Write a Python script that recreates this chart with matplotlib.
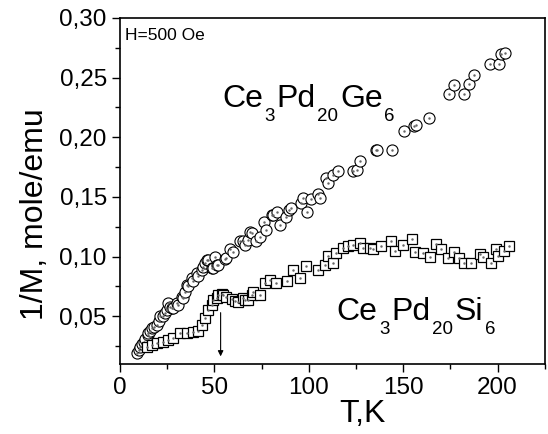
import matplotlib
matplotlib.use("Agg")
import matplotlib.pyplot as plt
from matplotlib.ticker import MultipleLocator, FuncFormatter
from matplotlib.transforms import offset_copy

plt.rcParams['font.family'] = ['Liberation Sans', 'DejaVu Sans']

# Ce3Pd20Ge6 : T (K), 1/M (mole/emu)
ge_T = [8.8, 9.8, 10.6, 11.5, 12.7, 13.5, 14.7, 15.0, 15.8, 16.8, 17.8, 19.4, 20.5, 21.2,
        22.9, 23.8, 24.7, 25.6, 26.5, 27.3, 28.2, 30.0, 30.8, 32.6, 33.5, 34.5, 35.3, 36.1,
        37.9, 38.8, 40.6, 41.4, 43.2, 44.0, 45.0, 45.9, 46.7, 48.5, 49.4, 50.3, 51.2, 52.0,
        55.6, 56.4, 58.2, 60.0, 63.5, 65.2, 66.1, 67.9, 68.8, 69.7, 72.3, 74.4, 76.2, 77.2,
        80.3, 80.8, 83.2, 85.0, 87.8, 89.6, 90.8, 96.1, 97.0, 98.8, 101.4, 104.9, 106.2,
        109.0, 110.2, 112.9, 115.5, 123.4, 125.8, 127.0, 135.4, 136.3, 144.3, 150.3, 155.7,
        157.0, 163.7, 174.2, 176.9, 182.2, 184.8, 187.3, 195.8, 201.0, 202.0, 203.7]
ge_M = [0.0197, 0.0215, 0.0247, 0.0265, 0.0289, 0.031, 0.034, 0.0359, 0.038, 0.040, 0.0415,
        0.0429, 0.046, 0.050, 0.050, 0.0527, 0.0555, 0.0616, 0.0582, 0.0569, 0.0569, 0.0611,
        0.0596, 0.0666, 0.0652, 0.0700, 0.0764, 0.075, 0.082, 0.0792, 0.0862, 0.0834, 0.0889,
        0.091, 0.0945, 0.0973, 0.0973, 0.0904, 0.0904, 0.1001, 0.0931, 0.0931, 0.0982, 0.0987,
        0.1065, 0.1040, 0.1127, 0.1127, 0.1099, 0.1141, 0.1205, 0.1202, 0.1127, 0.1168,
        0.1286, 0.1224, 0.135, 0.135, 0.1378, 0.1266, 0.1331, 0.1392, 0.1406, 0.1453, 0.1490,
        0.1378, 0.1484, 0.1526, 0.1490, 0.1657, 0.1616, 0.1685, 0.1721, 0.1721, 0.1727,
        0.1805, 0.1894, 0.1889, 0.1889, 0.2048, 0.2096, 0.2104, 0.2160, 0.2364, 0.2441,
        0.2364, 0.2444, 0.2523, 0.2612, 0.2615, 0.2700, 0.2704]

# Ce3Pd20Si6
si_T = [14.1, 16.8, 19.4, 22.9, 25.6, 28.2, 31.7, 35.3, 38.8, 41.4, 43.2, 45.0, 46.7, 48.5,
        49.4, 51.2, 52.0, 53.8, 54.7, 56.4, 59.1, 60.8, 62.6, 65.2, 66.1, 67.9, 69.7, 70.5,
        74.1, 76.7, 79.4, 82.9, 88.5, 91.7, 95.2, 98.4, 104.9, 108.5, 110.2, 112.9, 114.6,
        118.1, 120.8, 123.4, 127.0, 128.7, 132.3, 134.0, 138.4, 143.8, 145.5, 149.9, 154.9,
        156.1, 160.5, 164.0, 167.2, 170.2, 173.7, 177.2, 179.5, 182.5, 186.1, 190.5, 192.2,
        196.7, 199.3, 200.1, 203.2, 206.3]
si_M = [0.0247, 0.0261, 0.028, 0.0289, 0.0303, 0.0322, 0.0359, 0.0364, 0.0373, 0.0381,
        0.0429, 0.0485, 0.0555, 0.0596, 0.0638, 0.0652, 0.068, 0.0688, 0.068, 0.066, 0.0644,
        0.0632, 0.0624, 0.0652, 0.0638, 0.0638, 0.068, 0.0708, 0.068, 0.0778, 0.0806, 0.0783,
        0.0792, 0.0889, 0.082, 0.0923, 0.0889, 0.0931, 0.1006, 0.095, 0.1029, 0.1071, 0.1085,
        0.1099, 0.1118, 0.1071, 0.1071, 0.1063, 0.1085, 0.1135, 0.1051, 0.1099, 0.1147,
        0.1043, 0.1029, 0.0996, 0.1107, 0.1063, 0.0987, 0.1043, 0.0987, 0.0945, 0.095,
        0.1023, 0.0996, 0.095, 0.1063, 0.1007, 0.1051, 0.1085]

ge_label = [('Ce', 0), ('3', 1), ('Pd', 0), ('20', 1), ('Ge', 0), ('6', 1)]
si_label = [('Ce', 0), ('3', 1), ('Pd', 0), ('20', 1), ('Si', 0), ('6', 1)]

fig = plt.figure(figsize=(5.48, 4.34), dpi=100)
ax = fig.add_axes([0.219, 0.161, 0.775, 0.798])
rend = fig.canvas.get_renderer()


def formula(x, y, parts, size=23, subsize=13.5, drop=10.5, pad=1.2):
	# chemical formula with deep subscripts, pieces placed one after another
	dx = 0
	for s, sub in parts:
		if sub: dx += pad
		tr = offset_copy(ax.transData, fig=fig, x=dx, y=-drop if sub else 0, units='points')
		t = ax.text(x, y, s, fontsize=subsize if sub else size, transform=tr,
		            va='baseline', ha='left')
		dx += t.get_window_extent(rend).width * 72 / fig.dpi
		if sub: dx += pad


ax.plot(ge_T, ge_M, 'o', ms=8, mfc='white', mec='black', mew=0.8, ls='none')
ax.plot(ge_T, ge_M, '.', ms=1.5, color='0.4', ls='none')
ax.plot(si_T, si_M, 's', ms=7.5, mfc='white', mec='black', mew=0.9, ls='none')
ax.plot(si_T, si_M, '.', ms=1.5, color='0.4', ls='none')

ax.annotate('', xy=(53.3, 0.0165), xytext=(53.3, 0.0531),
            arrowprops=dict(arrowstyle='-|>', lw=0.8, color='black', mutation_scale=8,
                            shrinkA=0, shrinkB=0))

formula(54, 0.2257, ge_label)
formula(114.6, 0.0471, si_label)
ax.text(2.6, 0.285, 'H=500 Oe', fontsize=12.5, va='center', ha='left')

ax.set_xlim(0, 225)
ax.set_ylim(0.01, 0.30)
ax.xaxis.set_major_locator(MultipleLocator(50))
ax.xaxis.set_minor_locator(MultipleLocator(25))
ax.yaxis.set_major_locator(MultipleLocator(0.05))
ax.yaxis.set_minor_locator(MultipleLocator(0.025))
ax.yaxis.set_major_formatter(FuncFormatter(lambda v, p: ('%.2f' % v).replace('.', ',')))
ax.tick_params(which='major', direction='out', length=6, width=1, labelsize=17.5,
               top=False, right=False)
ax.tick_params(which='minor', direction='out', length=3.5, width=1, top=False, right=False)
for s in ax.spines.values():
	s.set_linewidth(1.2)

ax.set_xlabel('T,K', fontsize=23)
ax.set_ylabel('1/M, mole/emu', fontsize=23)
ax.xaxis.set_label_coords(0.57, -0.101)
ax.yaxis.set_label_coords(-0.165, 0.434)

fig.savefig('out.png', dpi=100)
